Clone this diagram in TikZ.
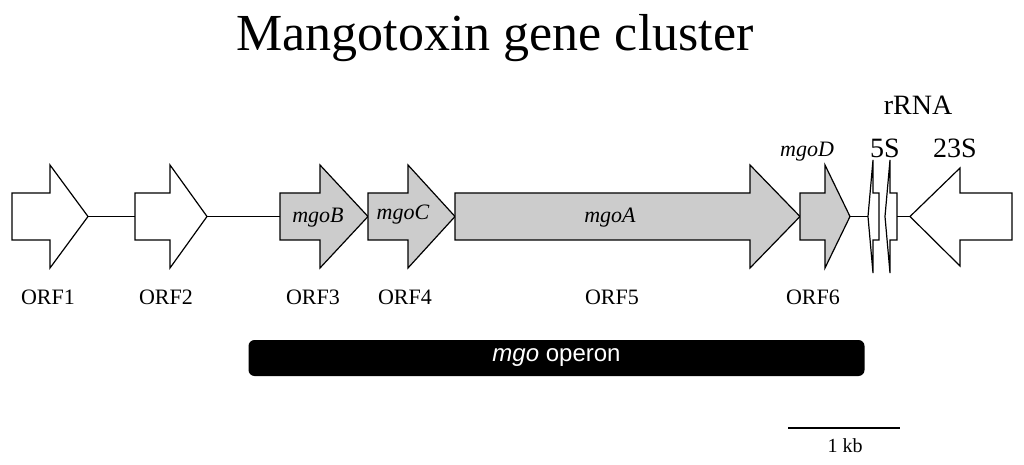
\documentclass[tikz,border=0pt]{standalone}
\usepackage{fontspec}
\setmainfont{Liberation Serif}
\newfontfamily\arialfont{Liberation Sans}
\usetikzlibrary{positioning}

% right-pointing gene: start, head base, tip, fill
\newcommand{\generight}[5]{%
  \draw[gene,fill=#4] (#1,193) -- (#2,193) -- (#2,165) -- (#3,216.5)
    -- (#2,268) -- (#2,240) -- (#1,240) -- cycle;
  \coordinate (#5s) at (#1,216.5);
  \coordinate (#5t) at (#3,216.5);}
% left-pointing gene: tip, head base, end, head top, head bottom
\newcommand{\geneleft}[6]{%
  \draw[gene,fill=white] (#1,216.5) -- (#2,#4) -- (#2,193) -- (#3,193)
    -- (#3,240) -- (#2,240) -- (#2,#5) -- cycle;
  \coordinate (#6t) at (#1,216.5);
  \coordinate (#6e) at (#3,216.5);}

\begin{document}
\begin{tikzpicture}[x=0.5pt,y=-0.5pt,
    gene/.style={draw=black,line width=0.6pt,line join=miter},
    backbone/.style={draw=black,line width=0.9pt},
    orf/.style={font=\fontsize{11}{12}\selectfont},
    gname/.style={font=\fontsize{11}{12}\selectfont\itshape},
  ]
  \useasboundingbox (0,0) rectangle (1024,465);

  % Title
  \node (title) at (495,38) {\fontsize{26}{30}\selectfont Mangotoxin gene cluster};

  % Genes
  \generight{12}{50}{88}{white}{o1}
  \generight{135}{170}{207}{white}{o2}
  \generight{280}{320}{368}{black!20}{o3}
  \generight{368}{408}{455}{black!20}{o4}
  \generight{455}{750}{800}{black!20}{o5}
  \generight{800}{825}{850}{black!20}{o6}
  \geneleft{868}{873}{879}{160}{273}{r5}
  \geneleft{885}{890}{897}{160}{273}{r23}
  \geneleft{910}{960}{1012}{168}{266}{r}

  % Backbone
  \draw[backbone] (o1t) -- (o2s);
  \draw[backbone] (o2t) -- (o3s);
  \draw[backbone] (o6t) -- (r5t);
  \draw[backbone] (r23e) -- (rt);

  % Gene names
  \node[gname] (mgoB) at (318,218) {mgoB};
  \node[gname] (mgoC) at (403,215) {mgoC};
  \node[gname] (mgoA) at (610,218) {mgoA};
  \node[gname] (mgoD) at (807,152) {mgoD};

  % ORF labels
  \node[orf] (l1) at (48,297) {ORF1};
  \node[orf] (l2) at (166,297) {ORF2};
  \node[orf] (l3) at (313,297) {ORF3};
  \node[orf] (l4) at (405,297) {ORF4};
  \node[orf] (l5) at (612,297) {ORF5};
  \node[orf] (l6) at (813,297) {ORF6};

  % rRNA labels
  \node[font=\fontsize{14}{16}\selectfont] (rrna) at (918,105) {rRNA};
  \node[font=\fontsize{14}{16}\selectfont] (s5) at (885,148) {5S};
  \node[font=\fontsize{14}{16}\selectfont] (s23) at (955,148) {23S};

  % Operon bar
  \node[fill=black,rounded corners=3pt,minimum width=308pt,minimum height=18pt,
    text=white,inner sep=0pt,font=\arialfont\fontsize{12}{14}\selectfont]
    (operon) at (556.5,358) {\textit{mgo} operon};

  % Scale bar
  \coordinate (sb1) at (788,428);
  \coordinate (sb2) at (900,428);
  \draw[backbone] (sb1) -- (sb2);
  \node[font=\fontsize{10}{12}\selectfont] (kb) at (845,446) {1 kb};
\end{tikzpicture}
\end{document}
